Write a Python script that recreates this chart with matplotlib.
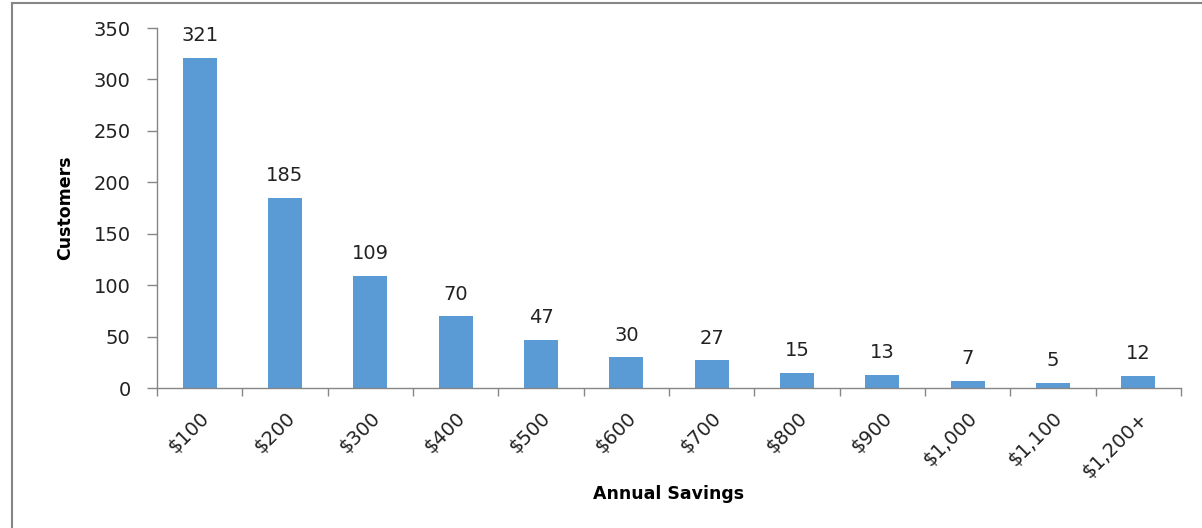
import matplotlib
matplotlib.use("Agg")
import matplotlib.pyplot as plt
from matplotlib.lines import Line2D
import numpy as np

categories = ["$100", "$200", "$300", "$400", "$500", "$600", "$700", "$800",
              "$900", "$1,000", "$1,100", "$1,200+"]
customers = [321, 185, 109, 70, 47, 30, 27, 15, 13, 7, 5, 12]
yticks = [0, 50, 100, 150, 200, 250, 300, 350]

plt.rcParams['font.family'] = ['DejaVu Sans']

fig = plt.figure(figsize=(12.02, 5.28), dpi=100)
ax = fig.add_axes([157/1202, 1-388/528, (1181-157)/1202, (388-28)/528])

x = np.arange(len(categories))
ax.bar(x, customers, width=0.4, color="#5B9BD5", zorder=2)
for xi, v in zip(x, customers):
    ax.annotate(str(v), (xi, v), xytext=(0, 9), textcoords="offset points",
                ha="center", va="bottom", fontsize=14, color="#222222")

ax.set_xlim(-0.5, len(categories) - 0.5)
ax.set_ylim(0, 350)
ax.set_yticks(yticks)
ax.set_yticklabels([str(t) for t in yticks], fontsize=14, color="#222222")
ax.set_xticks(x)
ax.set_xticklabels(categories, rotation=45, ha="right", rotation_mode="anchor",
                   fontsize=14, color="#222222")
ax.set_xticks(np.arange(-0.5, len(categories)), minor=True)
ax.tick_params(axis="x", which="major", length=0, pad=15)
ax.tick_params(axis="x", which="minor", length=6, color="#868686", width=1)
ax.tick_params(axis="y", length=7, color="#868686", width=1, pad=12)

for s in ["top", "right"]:
    ax.spines[s].set_visible(False)
for s in ["left", "bottom"]:
    ax.spines[s].set_color("#868686")
    ax.spines[s].set_linewidth(1)

ax.set_xlabel("Annual Savings", fontsize=12.5, fontweight="bold", labelpad=2)
ax.set_ylabel("Customers", fontsize=12.5, fontweight="bold", labelpad=14)

# outer chart border (top and left visible)
fig.add_artist(Line2D([12/1202, 1], [1-3/528, 1-3/528], color="#868686", lw=1.5,
                      transform=fig.transFigure))
fig.add_artist(Line2D([12/1202, 12/1202], [0, 1-3/528], color="#868686", lw=1.5,
                      transform=fig.transFigure))

fig.savefig("out.png", dpi=100)
